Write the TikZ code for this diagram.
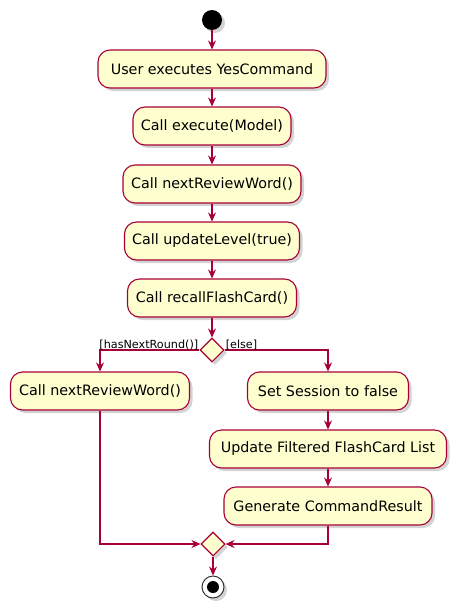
\documentclass[tikz,border=0pt]{standalone}
\usepackage{fontspec}
\setmainfont{DejaVu Sans}
\usetikzlibrary{shapes.geometric,arrows.meta,shadows}
\definecolor{pred}{HTML}{A80036}
\definecolor{pyel}{HTML}{FEFECE}
\begin{document}
\begin{tikzpicture}[x=1pt,y=-1pt,
  shad/.style={drop shadow={opacity=0.35,shadow xshift=3pt,shadow yshift=-3pt}},
  actbox/.style={rectangle,rounded corners=12pt,draw=pred,fill=pyel,line width=1.1pt,
    minimum height=38pt,inner sep=0pt,font=\fontsize{14.3}{16}\selectfont,shad},
  decis/.style={diamond,draw=pred,fill=pyel,line width=1.1pt,minimum width=24pt,
    minimum height=24pt,inner sep=0pt,shad},
  flow/.style={draw=pred,line width=1.1pt,-{Stealth[length=9pt,width=8pt,inset=3pt]}},
  glabel/.style={font=\fontsize{11.2}{13}\selectfont,inner sep=1pt}]
\useasboundingbox (0,0) rectangle (460,613);
\node[circle,fill=black,minimum size=20pt,inner sep=0pt,shad] (start) at (212,20) {};
\node[actbox,minimum width=228pt] (b1) at (212,69) {User executes YesCommand};
\node[actbox,minimum width=158pt] (b2) at (212,126) {Call execute(Model)};
\node[actbox,minimum width=178pt] (b3) at (212,184) {Call nextReviewWord()};
\node[actbox,minimum width=175pt] (b4) at (212,241) {Call updateLevel(true)};
\node[actbox,minimum width=169pt] (b5) at (212,298) {Call recallFlashCard()};
\node[decis] (d1) at (212,350) {};
\node[actbox,minimum width=179pt] (b6) at (100,391) {Call nextReviewWord()};
\node[actbox,minimum width=161pt] (b7) at (328,391) {Set Session to false};
\node[actbox,minimum width=237pt] (b8) at (328,449) {Update Filtered FlashCard List};
\node[actbox,minimum width=208pt] (b9) at (328,506) {Generate CommandResult};
\node[decis] (d2) at (213,544) {};
\node[circle,draw=black!80,fill=white,line width=1pt,minimum size=22pt,inner sep=0pt,shad] (stop) at (213,587) {};
\node[circle,fill=black,minimum size=12pt,inner sep=0pt] (stopdot) at (stop.center) {};
\draw[flow] (start) -- (b1);
\draw[flow] (b1) -- (b2);
\draw[flow] (b2) -- (b3);
\draw[flow] (b3) -- (b4);
\draw[flow] (b4) -- (b5);
\draw[flow] (b5) -- (d1);
\draw[flow] (d1.west) -| (b6.north);
\draw[flow] (d1.east) -| (b7.north);
\draw[flow] (b7) -- (b8);
\draw[flow] (b8) -- (b9);
\draw[flow] (b6.south) |- (d2.west);
\draw[flow] (b9.south) |- (d2.east);
\draw[flow] (d2) -- (stop);
\node[glabel,anchor=south east] (l1) at ([yshift=-1pt]d1.west) {[hasNextRound()]};
\node[glabel,anchor=south west] (l2) at ([yshift=-1pt]d1.east) {[else]};
\end{tikzpicture}
\end{document}
